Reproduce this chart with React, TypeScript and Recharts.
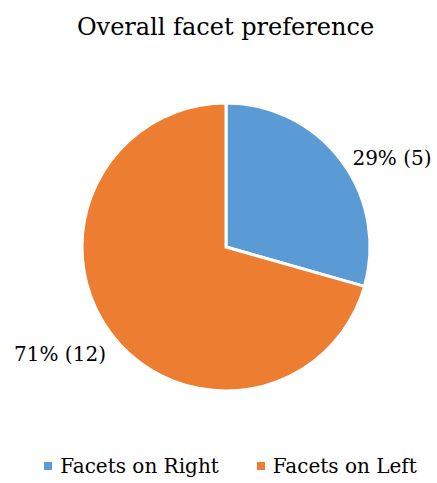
import React from "react";
import { PieChart, Pie, Cell, Legend } from "recharts";

const categories = ["Facets on Right", "Facets on Left"];
const counts = [5, 12];
const percentLabels = ["29%", "71%"];
const colors = ["#5B9BD5", "#ED7D31"];
const title = "Overall facet preference";

const data = categories.map((name, i) => ({ name, value: counts[i], pct: percentLabels[i] }));

const FONT = "DejaVu Serif";
const RAD = Math.PI / 180;

const renderLabel = (props: any) => {
  const { cx, cy, midAngle, payload } = props;
  const x = cx + 208 * Math.cos(-midAngle * RAD);
  const y = cy + 163 * Math.sin(-midAngle * RAD) + 9;
  return (
    <text x={x} y={y} textAnchor="middle" dominantBaseline="central" fill="#000" style={{ fontSize: 20, fontFamily: FONT }}>
      {`${payload.pct} (${payload.value})`}
    </text>
  );
};

const renderLegend = () => (
  <div style={{ display: "flex", justifyContent: "center", fontFamily: FONT, fontSize: 20, color: "#000", gap: 38 }}>
    {data.map((d, i) => (
      <div key={d.name} style={{ display: "flex", alignItems: "center" }}>
        <span style={{ width: 8, height: 8, background: colors[i], display: "inline-block", marginRight: 8 }} />
        <span>{d.name}</span>
      </div>
    ))}
  </div>
);

export default function App() {
  return (
    <div style={{ position: "absolute", left: 0, top: 0, width: 437, height: 483, background: "#fff", fontFamily: FONT }}>
      <div style={{ position: "absolute", left: 14, top: 13, width: 423, textAlign: "center", fontFamily: FONT, fontSize: 24, color: "#000" }}>
        {title}
      </div>
      <PieChart width={437} height={483} margin={{ top: 0, right: 0, bottom: 0, left: 0 }}>
        <Pie
          data={data}
          dataKey="value"
          nameKey="name"
          cx={226}
          cy={247}
          outerRadius={144}
          startAngle={90}
          endAngle={-270}
          stroke="#fff"
          strokeWidth={3}
          label={renderLabel}
          labelLine={false}
          isAnimationActive={false}
        >
          {data.map((d, i) => (
            <Cell key={d.name} fill={colors[i]} />
          ))}
        </Pie>
        <Legend content={renderLegend} wrapperStyle={{ position: "absolute", top: 454, left: 12, width: 437 }} />
      </PieChart>
    </div>
  );
}
